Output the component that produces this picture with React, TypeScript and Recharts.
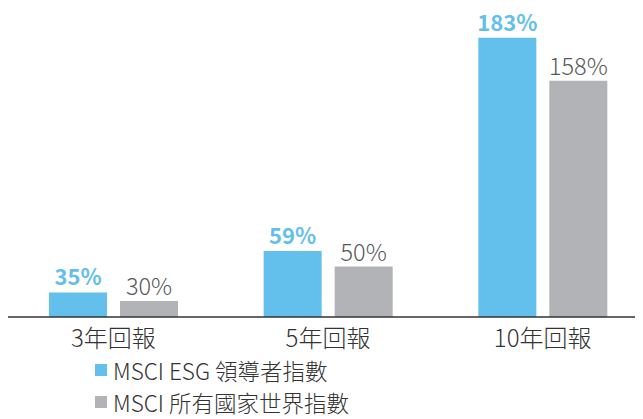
import React from 'react';
import { Bar, BarChart, LabelList, XAxis, YAxis } from 'recharts';

const categories = ['3年回報', '5年回報', '10年回報'];
const esgLeaders = [35, 59, 183];
const allCountryWorld = [30, 50, 158];
const seriesNames = ['MSCI ESG 領導者指數', 'MSCI 所有國家世界指數'];

const BLUE = '#63bfeb';
const GRAY = '#b2b3b7';
const FONT = '"Noto Sans CJK TC", "Noto Sans", sans-serif';

const data = categories.map((name, i) => ({
  name,
  esg: esgLeaders[i],
  acwi: allCountryWorld[i],
}));

const pct = (v: any) => `${v}%`;

export default function App() {
  return (
    <div style={{ position: 'relative', width: 643, height: 427, marginTop: -8, marginLeft: -8, overflow: 'hidden', fontFamily: FONT }}>
      <BarChart
        width={650}
        height={419}
        data={data}
        margin={{ top: 0, right: 0, left: 6, bottom: 0 }}
        barSize={58}
        barGap={13}
        barCategoryGap={43}
      >
        <XAxis
          dataKey="name"
          height={102}
          axisLine={{ stroke: '#333333', strokeWidth: 1.5 }}
          tickLine={false}
          tick={{ fontSize: 24, fill: '#333333', fontFamily: FONT, fontWeight: 300 }}
          tickMargin={7}
          interval={0}
        />
        <YAxis hide domain={[20.7, 205]} allowDataOverflow />
        <Bar dataKey="esg" fill={BLUE} isAnimationActive={false}>
          <LabelList
            dataKey="esg"
            position="top"
            offset={7}
            formatter={pct}
            style={{ fill: BLUE, fontSize: 22, fontWeight: 700, fontFamily: FONT }}
          />
        </Bar>
        <Bar dataKey="acwi" fill={GRAY} isAnimationActive={false}>
          <LabelList
            dataKey="acwi"
            position="top"
            offset={6}
            formatter={pct}
            style={{ fill: '#58595b', fontSize: 23.5, fontWeight: 300, fontFamily: FONT }}
          />
        </Bar>
      </BarChart>
      <div style={{ position: 'absolute', left: 95, top: 354, color: '#333333', fontSize: 22.5, fontWeight: 300, lineHeight: '32px' }}>
        {seriesNames.map((s, i) => (
          <div key={s} style={{ display: 'flex', alignItems: 'center' }}>
            <span style={{ display: 'inline-block', width: 12, height: 12, background: i === 0 ? BLUE : GRAY, marginRight: 6 }} />
            {s}
          </div>
        ))}
      </div>
    </div>
  );
}
